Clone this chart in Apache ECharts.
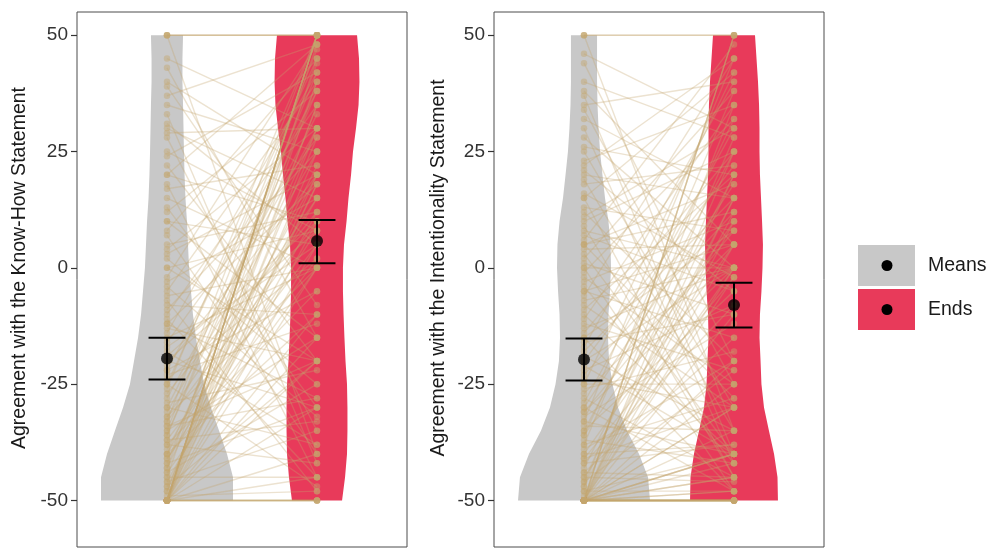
<!DOCTYPE html>
<html>
<head>
<meta charset="utf-8">
<style>html,body{margin:0;padding:0;background:#fff;}#chart{width:990px;height:549px;}</style>
<script src="https://cdn.jsdelivr.net/npm/echarts@6/dist/echarts.min.js"></script>
</head>
<body>
<div id="chart"></div>
<script>
// ---------- data ----------
const conditions = ['Means', 'Ends'];
const panelTitles = ['Agreement with the Know-How Statement', 'Agreement with the Intentionality Statement'];
const yTicks = [-50, -25, 0, 25, 50];

// paired responses, Know-How panel (Means value, Ends value for each participant)
const knowHowMeans = [
  -50,-50,-50,-50,-50,-50,-50,-50,-50,-50,-50,-50,-50,-50,-50,-50,-50,-50,-50,-50,-50,-50,
  -50,-50,-50,-50,-50,-50,
  -48,-47,-46,-45,-45,-44,-43,-42,-42,-41,-40,-40,-49,-47,-44,-43,-41,-46,-40,-48,
  -39,-38,-37,-36,-35,-35,-34,-33,-32,-31,-30,-30,-38,-36,-34,-32,-37,-33,
  -29,-28,-27,-25,-25,-24,-23,-22,-21,-20,-20,-26,-22,
  -19,-18,-16,-15,-14,-13,-12,-11,-10,-17,-12,
  -9,-8,-6,-5,-4,-3,-2,0,0,-7,
  2,4,5,7,8,10,10,3,
  12,13,15,17,18,20,20,
  22,24,25,28,29,30,
  31,33,35,37,39,40,
  43,45,50,50,50,50
];
const knowHowEnds = [
  50,50,50,50,50,50,-50,-50,-50,-50,30,20,10,0,-20,-30,40,-40,45,5,-10,25,
  50,-50,35,-45,18,-15,
  35,-20,12,48,-45,0,22,-30,40,8,-10,30,-48,18,-25,44,2,-35,15,28,
  20,-42,5,38,-15,47,-28,10,0,25,-38,33,-5,42,-20,15,-33,50,
  -22,30,12,-47,45,2,-12,38,20,-30,8,50,-5,
  10,-38,28,0,42,-20,18,-45,35,5,-28,
  25,-10,0,40,-32,15,48,-20,8,-48,
  -25,30,12,-40,45,5,-15,20,
  38,-30,0,22,-45,10,48,
  -20,42,8,-35,30,15,
  5,-42,25,48,-8,20,
  -15,30,50,50,50,-40
];

// paired responses, Intentionality panel
const intentMeans = [
  -50,-50,-50,-50,-50,-50,-50,-50,-50,-50,-50,-50,-50,-50,-50,-50,-50,-50,-50,-50,-50,-50,-50,-50,-50,-50,
  -50,-50,-50,-50,-50,-50,-50,-50,-50,-50,
  -49,-48,-47,-46,-45,-45,-44,-43,-42,-41,-40,-40,-48,-46,-44,-42,-47,-41,
  -39,-38,-37,-36,-35,-35,-34,-33,-32,-31,-30,-30,-38,-36,-33,-31,
  -29,-28,-27,-26,-25,-24,-23,-22,-21,-20,-20,-25,
  -19,-18,-17,-16,-15,-14,-13,-12,-11,-10,-15,
  -9,-8,-7,-6,-5,-5,-4,-3,-2,-1,0,0,
  1,2,3,4,5,5,6,7,8,9,10,5,
  11,12,13,15,15,16,18,19,20,
  21,23,25,26,28,30,22,
  32,34,35,37,38,40,
  44,46,50,50,50
];
const intentEnds = [
  50,50,50,-50,-50,-50,-50,-50,-50,-30,10,-20,-35,0,-40,-45,20,-10,-30,5,-40,25,-48,15,-25,-2,
  -50,-50,-50,-50,-50,-50,-45,-40,-48,-42,
  12,-40,35,-22,0,-46,-45,20,-8,-30,-38,5,-48,28,-15,-38,15,-2,
  -20,38,-42,10,-5,25,-35,45,-12,0,-48,18,-28,32,-40,8,
  30,-45,5,-18,42,-30,12,-8,-40,22,0,-25,
  -35,15,40,-10,-48,25,0,-22,35,-40,8,
  20,-30,0,45,-15,5,-42,10,-25,32,0,-48,
  -10,38,-40,5,18,-28,48,-5,0,-45,25,12,
  30,-20,8,-45,42,-2,22,-35,15,
  -5,35,-30,20,0,-42,45,
  15,-25,40,-40,5,28,
  -20,30,50,50,-35
];

// condition means and 95% CI
const knowHowMean = [-19.5, 5.8];
const knowHowLow  = [-24.0, 1.0];
const knowHowHigh = [-15.0, 10.3];
const intentMean  = [-19.7, -8.0];
const intentLow   = [-24.2, -12.8];
const intentHigh  = [-15.2, -3.2];

// violin half-widths (x-axis units) at these response levels
const violinLevels = [50,45,40,35,30,25,20,15,10,5,0,-5,-10,-15,-20,-25,-30,-35,-40,-45,-50];
const knowHowMeansWidth = [0.107,0.103,0.103,0.107,0.11,0.113,0.117,0.123,0.133,0.14,0.147,0.16,0.173,0.193,0.22,0.247,0.293,0.347,0.4,0.44,0.44];
const knowHowEndsWidth  = [0.267,0.28,0.283,0.277,0.26,0.24,0.227,0.21,0.197,0.18,0.173,0.173,0.177,0.183,0.19,0.2,0.203,0.203,0.2,0.187,0.167];
const intentMeansWidth  = [0.087,0.087,0.087,0.09,0.097,0.107,0.123,0.14,0.163,0.177,0.18,0.173,0.163,0.16,0.167,0.19,0.227,0.287,0.367,0.427,0.44];
const intentEndsWidth   = [0.14,0.15,0.16,0.167,0.17,0.17,0.173,0.18,0.187,0.193,0.19,0.183,0.173,0.17,0.177,0.183,0.2,0.233,0.267,0.29,0.293];

// ---------- styles ----------
const FONT = 'Liberation Sans, Arial, Helvetica, sans-serif';
const violinColors = ['#c8c8c8', '#e83a5a'];
const lineColor = 'rgba(196,166,110,0.32)';
const pointColor = 'rgba(196,166,110,0.55)';
const capHalf = 0.123;

const chart = echarts.init(document.getElementById('chart'), null, {renderer: 'canvas'});

function violin(g, xPos, widths, color) {
  return {
    type: 'custom', xAxisIndex: g, yAxisIndex: g, z: 1, silent: true,
    data: violinLevels.map((v, i) => [xPos, v, widths[i]]),
    encode: {x: 0, y: 1},
    renderItem(params, api) {
      if (params.dataIndex !== 0) return null;
      const right = violinLevels.map((v, i) => api.coord([xPos + widths[i], v]));
      const left = violinLevels.map((v, i) => api.coord([xPos - widths[i], v])).reverse();
      return {type: 'polygon', shape: {points: right.concat(left)}, style: {fill: color}};
    }
  };
}

function pairLines(g, means, ends) {
  return {
    type: 'custom', xAxisIndex: g, yAxisIndex: g, z: 2, silent: true,
    data: means.map((m, i) => [1, m, ends[i]]),
    encode: {x: 0, y: 1},
    renderItem(params, api) {
      const p1 = api.coord([1, api.value(1)]);
      const p2 = api.coord([2, api.value(2)]);
      return {type: 'line', shape: {x1: p1[0], y1: p1[1], x2: p2[0], y2: p2[1]},
              style: {stroke: lineColor, lineWidth: 1.4}};
    }
  };
}

function points(g, xPos, vals) {
  return {
    type: 'scatter', xAxisIndex: g, yAxisIndex: g, z: 3, silent: true,
    symbolSize: 6.5, itemStyle: {color: pointColor},
    data: vals.map(v => [xPos, v])
  };
}

function errorBars(g, mean, low, high) {
  return {
    type: 'custom', xAxisIndex: g, yAxisIndex: g, z: 4, silent: true,
    data: mean.map((m, i) => [i + 1, m, low[i], high[i]]),
    encode: {x: 0, y: 1},
    renderItem(params, api) {
      const x = api.value(0);
      const lo = api.coord([x, api.value(2)]);
      const hi = api.coord([x, api.value(3)]);
      const l1 = api.coord([x - capHalf, api.value(2)]);
      const r1 = api.coord([x + capHalf, api.value(2)]);
      const l2 = api.coord([x - capHalf, api.value(3)]);
      const r2 = api.coord([x + capHalf, api.value(3)]);
      const st = {stroke: '#000', lineWidth: 2};
      return {type: 'group', children: [
        {type: 'line', shape: {x1: lo[0], y1: lo[1], x2: hi[0], y2: hi[1]}, style: st},
        {type: 'line', shape: {x1: l1[0], y1: l1[1], x2: r1[0], y2: r1[1]}, style: st},
        {type: 'line', shape: {x1: l2[0], y1: l2[1], x2: r2[0], y2: r2[1]}, style: st}
      ]};
    }
  };
}

function meanDots(g, mean) {
  return {
    type: 'scatter', xAxisIndex: g, yAxisIndex: g, z: 5, silent: true,
    symbolSize: 12, itemStyle: {color: '#000'},
    data: mean.map((m, i) => [i + 1, m])
  };
}

function yAxis(g) {
  return {
    gridIndex: g, type: 'value', min: -60, max: 55,
    axisLine: {show: false},
    axisTick: {show: true, length: 6, customValues: yTicks, lineStyle: {color: '#333', width: 1.2}},
    axisLabel: {customValues: yTicks, fontSize: 19, color: '#333', fontFamily: FONT, margin: 9},
    splitLine: {show: false}
  };
}
function xAxis(g) {
  return {gridIndex: g, type: 'value', min: 0.4, max: 2.6, show: false};
}

const option = {
  backgroundColor: '#fff',
  animation: false,
  grid: [
    {left: 77, top: 12, width: 330, height: 535, show: true, borderColor: '#4d4d4d', borderWidth: 1, backgroundColor: 'transparent'},
    {left: 494, top: 12, width: 330, height: 535, show: true, borderColor: '#4d4d4d', borderWidth: 1, backgroundColor: 'transparent'}
  ],
  xAxis: [xAxis(0), xAxis(1)],
  yAxis: [yAxis(0), yAxis(1)],
  series: [
    violin(0, 1, knowHowMeansWidth, violinColors[0]),
    violin(0, 2, knowHowEndsWidth, violinColors[1]),
    pairLines(0, knowHowMeans, knowHowEnds),
    points(0, 1, knowHowMeans),
    points(0, 2, knowHowEnds),
    errorBars(0, knowHowMean, knowHowLow, knowHowHigh),
    meanDots(0, knowHowMean),
    violin(1, 1, intentMeansWidth, violinColors[0]),
    violin(1, 2, intentEndsWidth, violinColors[1]),
    pairLines(1, intentMeans, intentEnds),
    points(1, 1, intentMeans),
    points(1, 2, intentEnds),
    errorBars(1, intentMean, intentLow, intentHigh),
    meanDots(1, intentMean)
  ],
  graphic: [
    {type: 'text', x: 20, y: 268, rotation: Math.PI / 2,
     style: {text: panelTitles[0], fontSize: 19.5, fontFamily: FONT, fill: '#1a1a1a', align: 'center', verticalAlign: 'middle'}},
    {type: 'text', x: 439, y: 268, rotation: Math.PI / 2,
     style: {text: panelTitles[1], fontSize: 19.5, fontFamily: FONT, fill: '#1a1a1a', align: 'center', verticalAlign: 'middle'}},
    {type: 'rect', shape: {x: 858, y: 245, width: 57, height: 41}, style: {fill: violinColors[0]}},
    {type: 'rect', shape: {x: 858, y: 289, width: 57, height: 41}, style: {fill: violinColors[1]}},
    {type: 'circle', shape: {cx: 887, cy: 265.5, r: 5.5}, style: {fill: '#000'}},
    {type: 'circle', shape: {cx: 887, cy: 309.5, r: 5.5}, style: {fill: '#000'}},
    {type: 'text', x: 928, y: 265.5, style: {text: conditions[0], fontSize: 19.5, fontFamily: FONT, fill: '#1a1a1a', verticalAlign: 'middle'}},
    {type: 'text', x: 928, y: 309.5, style: {text: conditions[1], fontSize: 19.5, fontFamily: FONT, fill: '#1a1a1a', verticalAlign: 'middle'}}
  ]
};
chart.setOption(option);
</script>
</body>
</html>
